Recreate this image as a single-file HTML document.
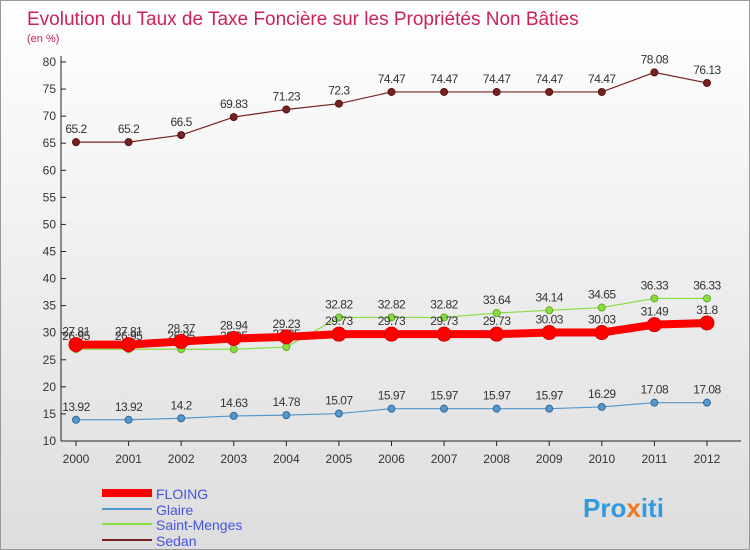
<!DOCTYPE html>
<html><head><meta charset="utf-8"><style>
body{margin:0;width:750px;height:550px;overflow:hidden;font-family:"Liberation Sans",sans-serif}
#wrap{position:relative;width:748px;height:548px;border:1px solid #999;background:linear-gradient(#fff,#ddd)}
</style></head><body>
<div id="wrap">
<svg id="c" width="748" height="548" style="position:absolute;left:0;top:0">
<text x="26" y="24" font-size="19" fill="#cc2255">Evolution du Taux de Taxe Foncière sur les Propriétés Non Bâties</text>
<text x="26" y="41" font-size="11" fill="#cc2255">(en %)</text>
<g id="axes"></g><g id="series"></g>
<g>
<line x1="101" y1="492" x2="151" y2="492" stroke="#ff0000" stroke-width="8"/>
<text x="155" y="498" font-size="14" fill="#4455dd">FLOING</text>
<line x1="101" y1="508" x2="151" y2="508" stroke="#5599cc" stroke-width="2"/>
<text x="155" y="514" font-size="14" fill="#4455dd">Glaire</text>
<line x1="101" y1="523" x2="151" y2="523" stroke="#88dd44" stroke-width="2"/>
<text x="155" y="529" font-size="14" fill="#4455dd">Saint-Menges</text>
<line x1="101" y1="539" x2="151" y2="539" stroke="#772222" stroke-width="2"/>
<text x="155" y="545" font-size="14" fill="#4455dd">Sedan</text>
</g>
<text x="582" y="516" font-size="26" font-weight="bold" fill="#3399dd">Pro<tspan fill="#ee7722">x</tspan>iti</text>
</svg></div>
<script>
const years=["2000","2001","2002","2003","2004","2005","2006","2007","2008","2009","2010","2011","2012"];
const yTicks=[10,15,20,25,30,35,40,45,50,55,60,65,70,75,80];
const floing=[27.81,27.81,28.37,28.94,29.23,29.73,29.73,29.73,29.73,30.03,30.03,31.49,31.8];
const glaire=[13.92,13.92,14.2,14.63,14.78,15.07,15.97,15.97,15.97,15.97,16.29,17.08,17.08];
const saintMenges=[26.95,26.95,26.95,26.95,27.35,32.82,32.82,32.82,33.64,34.14,34.65,36.33,36.33];
const sedan=[65.2,65.2,66.5,69.83,71.23,72.3,74.47,74.47,74.47,74.47,74.47,78.08,76.13];
const NS="http://www.w3.org/2000/svg";
const X=i=>75+i*52.58, Y=v=>440-(v-10)*(379/70);
function mk(t,a,p){const e=document.createElementNS(NS,t);for(const k in a)e.setAttribute(k,a[k]);p.appendChild(e);return e;}
const ax=document.getElementById('axes'),sg=document.getElementById('series');
let l=mk('line',{x1:60,y1:55,x2:60,y2:440,stroke:'#222'},ax);


l=mk('line',{x1:60,y1:440,x2:740,y2:440,stroke:'#222'},ax);


yTicks.forEach(v=>{mk('line',{x1:60,y1:Y(v),x2:65,y2:Y(v),stroke:'#222'},ax);
const t=mk('text',{x:55,y:Y(v)+4,'font-size':12,fill:'#333','text-anchor':'end'},ax);t.textContent=v;

});
years.forEach((y,i)=>{mk('line',{x1:X(i),y1:440,x2:X(i),y2:445,stroke:'#222'},ax);
const t=mk('text',{x:X(i),y:462,'font-size':12,fill:'#333','text-anchor':'middle'},ax);t.textContent=y;

});
function draw(data,name,col,dark,w,r){
const g=mk('g',{},sg);


const p=mk('polyline',{points:data.map((v,i)=>X(i)+','+Y(v)).join(' '),fill:'none',stroke:col,'stroke-width':w},g);


data.forEach((v,i)=>{const c=mk('circle',{cx:X(i),cy:Y(v),r:r,fill:col,stroke:dark,'stroke-width':1},g);


const t=mk('text',{x:X(i),y:Y(v)-9,'font-size':12,fill:'#333','text-anchor':'middle','letter-spacing':'-0.5'},g);t.textContent=v;

});}
draw(sedan,'sedan','#772222','#551111',1.2,3.5);
draw(glaire,'glaire','#5599cc','#336699',1.2,3.5);
draw(saintMenges,'saint-menges','#88dd44','#66aa22',1.2,3.5);
draw(floing,'floing','#ff0000','#dd0000',8,7);
</script></body></html>
